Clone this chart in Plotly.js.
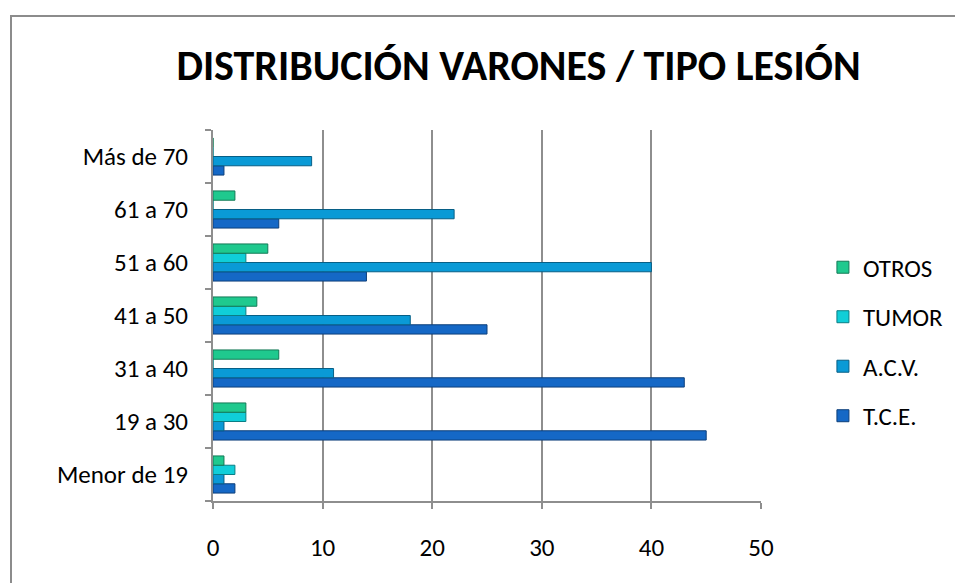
<!DOCTYPE html>
<html>
<head>
<meta charset="utf-8">
<script src="https://cdn.plot.ly/plotly-3.0.1.min.js"></script>
<style>
html,body{margin:0;padding:0;background:#fff;overflow:hidden;}
#frame{position:absolute;left:10px;top:15px;width:2000px;height:2000px;border-top:2px solid #8c8c8c;border-left:2px solid #8c8c8c;}
#chart{position:absolute;left:0;top:0;width:955px;height:583px;}
</style>
</head>
<body>
<div id="frame"></div>
<div id="chart"></div>
<script>
const categories = ['Menor de 19', '19 a 30', '31 a 40', '41 a 50', '51 a 60', '61 a 70', 'Más de 70'];
const tce   = [2, 45, 43, 25, 14, 6, 1];
const acv   = [1, 1, 11, 18, 40, 22, 9];
const tumor = [2, 3, 0, 3, 3, 0, 0];
const otros = [1, 3, 6, 4, 5, 2, 0];
const seriesNames = ['T.C.E.', 'A.C.V.', 'TUMOR', 'OTROS'];
const xTicks = [0, 10, 20, 30, 40, 50];

const colors = ['#1568c6', '#0a9ad6', '#10ced8', '#1fc98e'];
const lineColors = ['#0d3f7a', '#075f86', '#0a7e85', '#137a57'];
const values = [tce, acv, tumor, otros];
const ranks = [4, 3, 2, 1];

const font = "Carlito, Calibri, 'Open Sans', sans-serif";

const traces = values.map((v, i) => ({
  type: 'bar',
  orientation: 'h',
  name: seriesNames[i],
  y: categories,
  x: v,
  legendgroup: 'g' + i,
  legendrank: ranks[i],
  marker: {color: colors[i], line: {color: lineColors[i], width: 1}},
  hoverinfo: 'x+name'
}));

const layout = {
  width: 955,
  height: 583,
  paper_bgcolor: 'rgba(0,0,0,0)',
  plot_bgcolor: 'rgba(0,0,0,0)',
  margin: {l: 213, r: 194, t: 130, b: 82, autoexpand: false},
  barmode: 'group',
  bargap: 0.3,
  bargroupgap: 0,
  showlegend: true,
  title: {
    text: '<b>DISTRIBUCIÓN VARONES / TIPO LESIÓN</b>',
    font: {family: font, size: 42, color: '#000'},
    x: 0.543, xanchor: 'center', y: 0.888, yanchor: 'middle'
  },
  xaxis: {
    range: [0, 50],
    tickvals: xTicks,
    ticktext: xTicks.map(String),
    showgrid: true,
    gridcolor: '#8e8e8e',
    gridwidth: 2,
    zeroline: false,
    showline: true,
    linecolor: '#8e8e8e',
    linewidth: 2,
    ticks: 'outside',
    ticklen: 6,
    tickcolor: '#8e8e8e',
    tickwidth: 2,
    ticklabelstandoff: 17,
    tickfont: {family: font, size: 25, color: '#000'},
    fixedrange: true
  },
  yaxis: {
    type: 'category',
    categoryorder: 'array',
    categoryarray: categories,
    showgrid: false,
    zeroline: false,
    showline: true,
    linecolor: '#8e8e8e',
    linewidth: 2,
    ticks: 'outside',
    tickson: 'boundaries',
    ticklen: 6,
    tickcolor: '#8e8e8e',
    tickwidth: 2,
    ticklabelstandoff: 18,
    tickfont: {family: font, size: 25, color: '#000'},
    fixedrange: true
  },
  legend: {
    x: 1.113, xanchor: 'left',
    y: 0.43, yanchor: 'middle',
    traceorder: 'grouped',
    tracegroupgap: 14,
    font: {family: font, size: 25, color: '#000'},
    itemwidth: 30,
    bgcolor: 'rgba(0,0,0,0)'
  }
};

Plotly.newPlot('chart', traces, layout, {displayModeBar: false, staticPlot: true});
</script>
</body>
</html>
